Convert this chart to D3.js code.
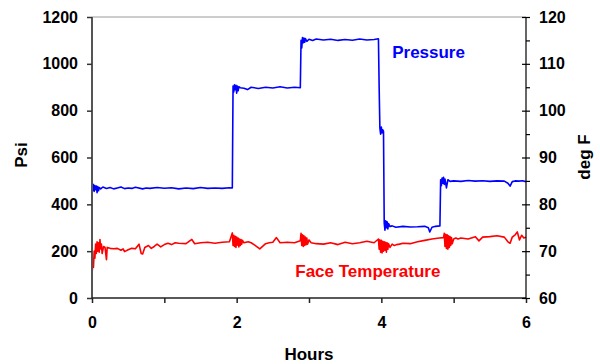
<!DOCTYPE html>
<html>
<head>
<meta charset="utf-8">
<script src="https://cdn.jsdelivr.net/npm/d3@7"></script>
<style>
  body { margin: 0; background: #fff; }
  svg text { font-family: "Liberation Sans", Arial, sans-serif; font-weight: bold; }
</style>
</head>
<body>
<div id="chart"></div>
<script>
// Pressure (Psi, left axis) readings
const pressureHours = [
  0.00, 0.01, 0.02, 0.03, 0.04, 0.05, 0.06, 0.07, 0.08, 0.09, 0.10, 0.12, 0.15, 0.20, 0.25, 0.30,
  0.35, 0.40, 0.45, 0.50, 0.55, 0.60, 0.70, 0.75, 0.80, 0.90, 1.00, 1.10, 1.20, 1.30, 1.40, 1.50,
  1.60, 1.70, 1.80, 1.90, 1.94, 1.95, 1.96, 1.97, 1.98, 1.99, 2.00, 2.01, 2.02, 2.03, 2.05, 2.10,
  2.15, 2.20, 2.30, 2.40, 2.50, 2.60, 2.70, 2.80, 2.88, 2.89, 2.90, 2.91, 2.92, 2.93, 2.94, 2.95,
  2.97, 3.00, 3.05, 3.10, 3.20, 3.30, 3.40, 3.50, 3.60, 3.70, 3.80, 3.90, 3.96, 3.97, 3.98, 3.99,
  4.00, 4.01, 4.02, 4.03, 4.04, 4.05, 4.06, 4.07, 4.08, 4.09, 4.10, 4.12, 4.15, 4.20, 4.30, 4.40,
  4.50, 4.60, 4.65, 4.67, 4.70, 4.75, 4.81, 4.82, 4.83, 4.84, 4.85, 4.86, 4.87, 4.88, 4.90, 4.92,
  4.95, 5.00, 5.10, 5.20, 5.30, 5.40, 5.50, 5.60, 5.70, 5.75, 5.78, 5.81, 5.85, 5.90, 5.95, 6.00
];
const pressureValues = [
  490, 460, 485, 455, 480, 462, 478, 450, 476, 458, 472, 466, 474, 468, 472, 466,
  470, 474, 467, 470, 468, 473, 466, 470, 468, 472, 469, 471, 466, 470, 467, 472,
  468, 470, 468, 471, 470, 905, 880, 910, 890, 908, 875, 905, 885, 902, 898, 896,
  890, 900, 895, 900, 897, 902, 897, 900, 898, 1100, 1068, 1112, 1090, 1110, 1092, 1108,
  1096, 1105, 1100, 1106, 1102, 1105, 1100, 1104, 1101, 1106, 1102, 1104, 1107, 897, 725, 700,
  730, 705, 718, 712, 320, 290, 330, 300, 325, 295, 318, 305, 308, 302, 306, 303,
  304, 306, 300, 282, 302, 306, 308, 505, 480, 512, 490, 515, 485, 508, 470, 505,
  498, 500, 498, 502, 499, 501, 498, 500, 499, 490, 478, 497, 500, 499, 501, 497
];

// Face temperature (deg F, right axis) readings
const tempHours = [
  0.00, 0.01, 0.02, 0.03, 0.04, 0.05, 0.06, 0.07, 0.08, 0.09, 0.10, 0.11, 0.12, 0.13, 0.14, 0.16,
  0.18, 0.20, 0.21, 0.25, 0.30, 0.35, 0.40, 0.43, 0.45, 0.50, 0.55, 0.60, 0.65, 0.68, 0.70, 0.73,
  0.78, 0.82, 0.86, 0.90, 0.95, 1.00, 1.05, 1.10, 1.15, 1.20, 1.30, 1.38, 1.42, 1.50, 1.60, 1.70,
  1.80, 1.90, 1.94, 1.95, 1.96, 1.97, 1.98, 1.99, 2.00, 2.01, 2.02, 2.03, 2.04, 2.05, 2.06, 2.07,
  2.08, 2.10, 2.13, 2.16, 2.20, 2.25, 2.32, 2.40, 2.45, 2.50, 2.55, 2.60, 2.70, 2.80, 2.88, 2.89,
  2.90, 2.91, 2.92, 2.93, 2.94, 2.95, 2.96, 2.97, 2.98, 3.00, 3.03, 3.10, 3.20, 3.30, 3.40, 3.50,
  3.60, 3.70, 3.80, 3.90, 3.96, 3.97, 3.98, 3.99, 4.00, 4.01, 4.02, 4.03, 4.04, 4.05, 4.06, 4.07,
  4.08, 4.09, 4.10, 4.12, 4.15, 4.18, 4.21, 4.25, 4.30, 4.40, 4.50, 4.60, 4.70, 4.80, 4.86, 4.87,
  4.88, 4.89, 4.90, 4.91, 4.92, 4.93, 4.94, 4.95, 4.96, 4.97, 4.98, 5.00, 5.03, 5.06, 5.10, 5.20,
  5.30, 5.35, 5.40, 5.50, 5.60, 5.70, 5.75, 5.78, 5.81, 5.85, 5.88, 5.91, 5.94, 5.97, 6.00
];
const tempValues = [
  64.5, 68.0, 66.5, 70.0, 68.5, 71.5, 69.5, 72.0, 70.0, 71.8, 69.8, 72.5, 70.5, 71.5, 69.5, 71.0,
  70.8, 68.2, 70.8, 70.6, 70.5, 70.6, 70.2, 70.5, 69.9, 70.3, 70.6, 70.5, 71.5, 69.5, 69.4, 70.8,
  71.2, 70.6, 71.0, 71.5, 70.9, 71.4, 71.7, 71.4, 71.8, 71.7, 71.6, 72.5, 71.6, 71.8, 71.9, 71.7,
  71.9, 72.0, 73.9, 71.2, 73.4, 71.0, 73.2, 70.8, 73.0, 71.3, 72.8, 70.9, 72.6, 71.2, 72.5, 71.5,
  72.3, 71.8, 71.9, 72.0, 71.8, 71.3, 70.5, 71.6, 71.8, 71.9, 72.9, 71.8, 71.9, 71.8, 72.2, 73.8,
  71.2, 73.5, 71.0, 73.3, 71.2, 73.0, 71.4, 72.8, 71.5, 72.4, 71.8, 71.6, 71.5, 71.8, 71.4, 71.9,
  71.6, 71.8, 72.1, 71.8, 72.6, 70.4, 72.4, 69.8, 72.3, 69.6, 72.1, 70.0, 72.0, 70.2, 71.9, 69.8,
  71.8, 70.4, 71.6, 70.8, 71.5, 71.2, 71.4, 71.5, 71.7, 71.6, 72.0, 72.3, 72.6, 72.8, 72.9, 73.8,
  71.0, 73.6, 70.6, 73.5, 70.4, 73.3, 70.8, 73.1, 71.2, 72.9, 71.6, 72.6, 72.8, 72.6, 72.8, 72.6,
  73.1, 72.2, 73.0, 73.1, 73.3, 73.0, 72.0, 71.7, 73.0, 73.5, 74.1, 72.4, 73.4, 72.8, 73.0
];

const xTicks = [0, 2, 4, 6];
const xMinorTicks = [1, 3, 5];
const psiTicks = [0, 200, 400, 600, 800, 1000, 1200];
const degTicks = [60, 70, 80, 90, 100, 110, 120];
const degMinorTicks = [65, 75, 85, 95, 105, 115];

const W = 600, H = 364;
const margin = {top: 17, right: 74, bottom: 66, left: 92};
const width = W - margin.left - margin.right;
const height = H - margin.top - margin.bottom;

const svg = d3.select('#chart').append('svg')
  .attr('width', W)
  .attr('height', H);

const g = svg.append('g')
  .attr('transform', `translate(${margin.left},${margin.top})`);

const x = d3.scaleLinear().domain([0, 6]).range([0, width]);
const yPsi = d3.scaleLinear().domain([0, 1200]).range([height, 0]);
const yDeg = d3.scaleLinear().domain([60, 120]).range([height, 0]);

// top border
g.append('line')
  .attr('x1', 0).attr('x2', width)
  .attr('y1', 0).attr('y2', 0)
  .attr('stroke', '#9a9a9a')
  .attr('stroke-width', 1);

// series
const pressure = pressureHours.map((h, i) => ({h, v: pressureValues[i]}));
const temp = tempHours.map((h, i) => ({h, v: tempValues[i]}));

g.append('path')
  .datum(temp)
  .attr('fill', 'none')
  .attr('stroke', '#ff0000')
  .attr('stroke-width', 1.6)
  .attr('stroke-linejoin', 'round')
  .attr('d', d3.line().x(d => x(d.h)).y(d => yDeg(d.v)));

g.append('path')
  .datum(pressure)
  .attr('fill', 'none')
  .attr('stroke', '#0000ff')
  .attr('stroke-width', 1.6)
  .attr('stroke-linejoin', 'round')
  .attr('d', d3.line().x(d => x(d.h)).y(d => yPsi(d.v)));

// axes
const fmt = d3.format('d');

const leftAxis = g.append('g')
  .call(d3.axisLeft(yPsi).tickValues(psiTicks).tickFormat(fmt).tickSize(5).tickPadding(9));
leftAxis.select('.domain').attr('stroke', '#555').attr('stroke-width', 2).attr('d', `M0,${height}V0`);
leftAxis.selectAll('.tick line').attr('stroke', '#333').attr('stroke-width', 1.5);

const bottomAxis = g.append('g')
  .attr('transform', `translate(0,${height})`)
  .call(d3.axisBottom(x).tickValues(xTicks).tickFormat(fmt).tickSize(5).tickPadding(14));
bottomAxis.select('.domain').attr('stroke', '#222').attr('stroke-width', 1.5).attr('d', `M0,0H${width}`);
bottomAxis.selectAll('.tick line').attr('stroke', '#222').attr('stroke-width', 1.5);

g.append('g')
  .attr('transform', `translate(0,${height})`)
  .call(d3.axisBottom(x).tickValues(xMinorTicks).tickSize(5).tickFormat(''))
  .call(a => a.select('.domain').remove())
  .selectAll('.tick line').attr('stroke', '#222').attr('stroke-width', 1.5);

const rightAxis = g.append('g')
  .attr('transform', `translate(${width},0)`)
  .call(d3.axisRight(yDeg).tickValues(degTicks).tickFormat(fmt).tickSize(4).tickPadding(9));
rightAxis.select('.domain').attr('stroke', '#000').attr('stroke-width', 1.2).attr('d', `M0,${height}V0`);
rightAxis.selectAll('.tick line').attr('x1', -4).attr('stroke', '#000').attr('stroke-width', 1.2);

g.append('g')
  .attr('transform', `translate(${width},0)`)
  .call(d3.axisRight(yDeg).tickValues(degMinorTicks).tickSize(4).tickFormat(''))
  .call(a => a.select('.domain').remove())
  .selectAll('.tick line').attr('stroke', '#000').attr('stroke-width', 1.2);

g.selectAll('.tick text')
  .style('font-size', '16px')
  .style('font-weight', 'bold')
  .style('font-family', '"Liberation Sans", Arial, sans-serif')
  .attr('fill', '#000');

// axis titles
svg.append('text')
  .attr('transform', 'translate(27,155) rotate(-90)')
  .attr('text-anchor', 'middle')
  .style('font-size', '17px')
  .attr('fill', '#000')
  .text('Psi');

svg.append('text')
  .attr('transform', 'translate(590,157) rotate(-90)')
  .attr('text-anchor', 'middle')
  .style('font-size', '17px')
  .attr('fill', '#000')
  .text('deg F');

svg.append('text')
  .attr('x', margin.left + width / 2)
  .attr('y', 360)
  .attr('text-anchor', 'middle')
  .style('font-size', '17px')
  .attr('fill', '#000')
  .text('Hours');

// series labels
g.append('text')
  .attr('x', x(4.15))
  .attr('y', yPsi(1025))
  .style('font-size', '17px')
  .attr('fill', '#0000ff')
  .text('Pressure');

g.append('text')
  .attr('x', x(2.81))
  .attr('y', yDeg(64.4))
  .style('font-size', '17px')
  .attr('fill', '#ff0000')
  .text('Face Temperature');
</script>
</body>
</html>
